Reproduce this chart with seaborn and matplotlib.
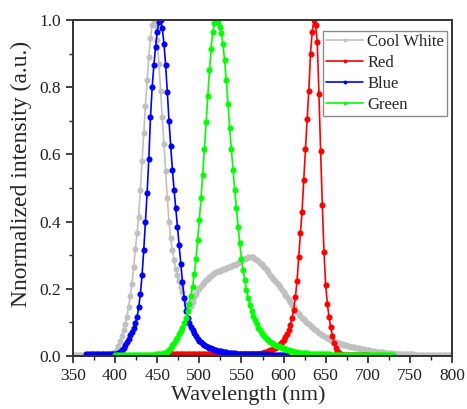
import numpy as np
import pandas as pd
import matplotlib
matplotlib.use("Agg")
import matplotlib.pyplot as plt
import seaborn as sns
from matplotlib.ticker import MultipleLocator

# ---------------- data ----------------
series_names = ["Cool White", "Red", "Blue", "Green"]
series_colors = ["#c0c0c0", "#ff0000", "#0000ff", "#00ff00"]

cw_wl = np.arange(350, 801, 2)
cw_val = [
    .004, .004, .004, .004, .004, .004, .004, .004, .004, .004,   # 350
    .004, .004, .004, .004, .004, .004, .004, .004, .004, .004,   # 370
    .004, .004, .005, .006, .008, .011, .018, .030, .045, .060,   # 390
    .077, .096, .117, .145, .178, .215, .265, .318, .365, .415,   # 410
    .495, .580, .665, .745, .820, .890, .945, .985, 1.00, .985,   # 430
    .940, .870, .790, .710, .630, .550, .470, .400, .350, .315,   # 450
    .285, .260, .240, .222, .205, .190, .172, .156, .146, .143,   # 470
    .150, .162, .175, .186, .195, .202, .208, .213, .219, .225,   # 490
    .230, .235, .239, .243, .246, .249, .252, .254, .256, .258,   # 510
    .260, .262, .264, .266, .268, .270, .272, .275, .278, .281,   # 530
    .284, .287, .290, .293, .295, .296, .296, .294, .290, .286,   # 550
    .282, .278, .273, .268, .262, .256, .249, .242, .235, .229,   # 570
    .223, .217, .211, .205, .197, .190, .182, .175, .167, .160,   # 590
    .153, .146, .139, .132, .126, .120, .114, .109, .104, .099,   # 610
    .094, .089, .085, .081, .077, .073, .069, .066, .062, .059,   # 630
    .056, .053, .050, .048, .046, .044, .042, .040, .038, .036,   # 650
    .035, .033, .032, .030, .029, .028, .027, .026, .025, .024,   # 670
    .023, .022, .021, .020, .019, .018, .017, .016, .015, .014,   # 690
    .013, .013, .012, .011, .011, .010, .010, .009, .009, .008,   # 710
    .008, .007, .007, .007, .006, .006, .006, .006, .005, .005,   # 730
    .005, .005, .005, .004, .004, .004, .004, .004, .004, .004,   # 750
    .004, .004, .004, .004, .004, .004, .003, .003, .003, .003,   # 770
    .003, .003, .003, .003, .003, .003,                           # 790
]

red_wl = np.arange(460, 701, 2)
red_val = [
    .005, .005, .005, .005, .005, .005, .005, .005, .005, .005,   # 460
    .005, .005, .005, .005, .005, .005, .005, .005, .005, .005,   # 480
    .005, .005, .005, .005, .005, .005, .005, .005, .005, .005,   # 500
    .005, .005, .005, .005, .005, .005, .005, .005, .005, .005,   # 520
    .005, .005, .005, .005, .005, .005, .005, .005, .005, .005,   # 540
    .005, .005, .005, .005, .005, .006, .007, .008, .009, .011,   # 560
    .013, .015, .017, .019, .022, .025, .028, .031, .035, .041,   # 580
    .048, .056, .065, .076, .092, .112, .138, .175, .222, .295,   # 600
    .365, .430, .525, .615, .705, .790, .900, .965, 1.00, .985,   # 620
    .935, .780, .610, .450, .310, .211, .155, .115, .085, .060,   # 640
    .040, .025, .014, .008, .005, .004, .004, .004, .004, .004,   # 660
    .004, .004, .004, .003, .003, .003, .003, .003, .003, .003,   # 680
    .003,                                                         # 700
]

blue_wl = np.arange(366, 605, 2)
blue_val = [
    .006, .006, .006, .006, .006, .006, .006, .006, .006, .006,   # 366
    .006, .006, .006, .006, .006, .005, .005, .005, .006, .009,   # 386
    .013, .019, .025, .033, .043, .052, .062, .072, .083, .097,   # 406
    .115, .145, .185, .240, .315, .400, .485, .585, .710, .800,   # 426
    .865, .920, .965, .995, 1.00, .975, .930, .865, .785, .700,   # 446
    .625, .555, .495, .440, .385, .330, .275, .220, .172, .135,   # 466
    .112, .097, .086, .078, .069, .060, .052, .046, .041, .037,   # 486
    .033, .030, .027, .025, .023, .021, .019, .017, .016, .015,   # 506
    .014, .013, .012, .011, .010, .009, .009, .008, .008, .007,   # 526
    .007, .007, .006, .006, .006, .006, .005, .005, .005, .005,   # 546
    .005, .005, .005, .005, .005, .005, .005, .005, .004, .004,   # 566
    .004, .004, .004, .004, .004, .004, .004, .004, .004, .004,   # 586
]

green_wl = np.arange(400, 731, 2)
green_val = [
    .004, .004, .004, .004, .004, .004, .004, .004, .004, .004,   # 400
    .004, .004, .004, .004, .004, .004, .004, .004, .004, .004,   # 420
    .004, .004, .004, .004, .005, .005, .006, .006, .007, .008,   # 440
    .010, .013, .018, .025, .032, .039, .047, .055, .064, .073,   # 460
    .082, .097, .114, .133, .155, .180, .205, .245, .290, .345,   # 480
    .405, .470, .540, .615, .695, .775, .850, .915, .965, .990,   # 500
    1.00, .995, .980, .960, .930, .880, .820, .750, .680, .615,   # 520
    .555, .495, .440, .385, .335, .290, .255, .225, .197, .172,   # 540
    .152, .135, .120, .106, .094, .084, .076, .069, .063, .057,   # 560
    .052, .047, .043, .040, .037, .034, .031, .029, .027, .025,   # 580
    .023, .021, .019, .017, .015, .014, .013, .012, .011, .010,   # 600
    .010, .009, .009, .008, .008, .007, .007, .007, .006, .006,   # 620
    .006, .006, .005, .005, .005, .005, .005, .005, .004, .004,   # 640
    .004, .004, .004, .004, .004, .004, .004, .004, .004, .004,   # 660
    .004, .004, .004, .003, .003, .003, .003, .003, .003, .003,   # 680
    .003, .003, .003, .003, .003, .003, .003, .003, .003, .003,   # 700
    .003, .003, .002, .002, .002, .002,                           # 720
]

x_ticks = [350, 400, 450, 500, 550, 600, 650, 700, 750, 800]
y_ticks = [0.0, 0.2, 0.4, 0.6, 0.8, 1.0]

frames = []
for name, wl, val in [("Cool White", cw_wl, cw_val), ("Red", red_wl, red_val),
                      ("Blue", blue_wl, blue_val), ("Green", green_wl, green_val)]:
    frames.append(pd.DataFrame({"Wavelength": wl, "Intensity": val, "Series": name}))
df = pd.concat(frames, ignore_index=True)

# ---------------- style ----------------
sns.set_style("ticks")
plt.rcParams["font.family"] = ["Liberation Serif", "DejaVu Serif"]

fig = plt.figure(figsize=(4.67, 4.09), dpi=100)
ax = fig.add_axes([73 / 467, 53 / 409, 379 / 467, 336 / 409])

sns.lineplot(data=df, x="Wavelength", y="Intensity", hue="Series",
             hue_order=series_names, palette=series_colors,
             estimator=None, sort=False, marker="o", markersize=4.4,
             markeredgewidth=0, linewidth=1.2, ax=ax)

ax.set_xlim(x_ticks[0], x_ticks[-1])
ax.set_ylim(y_ticks[0], y_ticks[-1])
ax.set_xticks(x_ticks)
ax.set_yticks(y_ticks)
ax.set_xticklabels([str(t) for t in x_ticks])
ax.set_yticklabels([f"{t:.1f}" for t in y_ticks])
ax.xaxis.set_minor_locator(MultipleLocator(25))
ax.yaxis.set_minor_locator(MultipleLocator(0.1))
ax.tick_params(axis="both", which="major", direction="out", length=5, width=1.2,
               labelsize=12.5, colors="#222222", pad=3.5)
ax.tick_params(axis="both", which="minor", direction="out", length=3, width=1.0,
               colors="#222222")
ax.tick_params(top=False, right=False, which="both")
for sp in ax.spines.values():
    sp.set_visible(True)
    sp.set_linewidth(1.4)
    sp.set_color("#333333")

ax.set_xlabel("Wavelength (nm)", fontsize=16)
ax.set_ylabel("Nnormalized intensity (a.u.)", fontsize=17)
ax.xaxis.set_label_coords(0.462, -0.088)
ax.yaxis.set_label_coords(-0.108, 0.543)

handles, labels = ax.get_legend_handles_labels()
for h in handles:
    h.set_markersize(2.8)
    h.set_linewidth(1.2)
leg = ax.legend(handles, labels, loc="upper right", bbox_to_anchor=(0.988, 0.968),
                fontsize=12, frameon=True, fancybox=False, handlelength=2.2,
                handletextpad=0.25, labelspacing=0.3, borderpad=0.2,
                borderaxespad=0.0)
leg.get_frame().set_edgecolor("#707070")
leg.get_frame().set_linewidth(1.0)

fig.savefig("out.png", dpi=100)
